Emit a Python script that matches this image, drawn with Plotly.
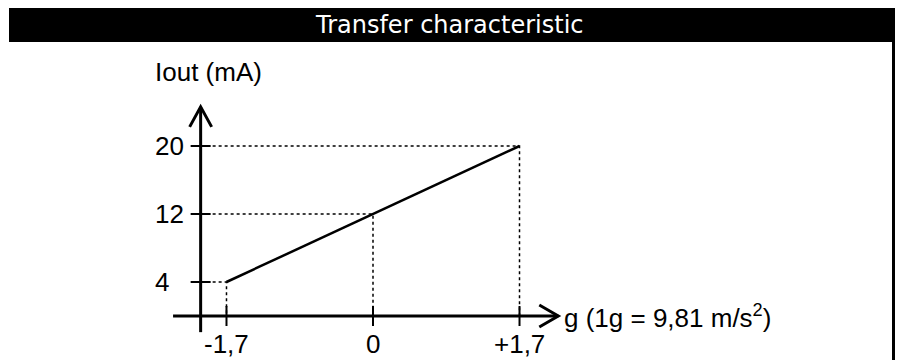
import plotly.graph_objects as go

# Transfer characteristic: acceleration (g) -> output current (mA)
g_values = [-1.7, 0, 1.7]
iout_values = [4, 12, 20]
g_labels = ["-1,7", "0", "+1,7"]
iout_labels = ["4", "12", "20"]

title = "Transfer characteristic"
y_title = "Iout (mA)"
x_title = "g (1g = 9,81 m/s<sup>2</sup>)"

# where the drawn axes sit / end (data units)
y_axis_at = -2.0
x_axis_min, x_axis_max = -2.32, 2.15
y_axis_min, y_axis_max = -1.9, 24.6

W, H = 898, 360
# pixel mapping: g=0 at px 373, 86.18 px per g ; 0 mA at px 316, 8.5 px per mA
x0_px, y0_px = 373, 316
x_range = [(0 - x0_px) / 86.18, (W - x0_px) / 86.18]
y_range = [(y0_px - H) / 8.5, y0_px / 8.5]

label_font = dict(family="Liberation Sans, Arial", size=26, color="black")

fig = go.Figure()

# dotted guide lines
for gx, iy in zip(g_values, iout_values):
    fig.add_trace(go.Scatter(x=[y_axis_at, gx, gx], y=[iy, iy, 0], mode="lines",
                             line=dict(color="black", width=1.5, dash="dot"),
                             hoverinfo="skip", showlegend=False))

# characteristic line
fig.add_trace(go.Scatter(x=[g_values[0], g_values[-1]], y=[iout_values[0], iout_values[-1]],
                         mode="lines", line=dict(color="black", width=2.5),
                         showlegend=False))

shapes = []
# axes
shapes.append(dict(type="line", xref="x", yref="y", x0=x_axis_min, x1=x_axis_max, y0=0, y1=0,
                   line=dict(color="black", width=3)))
shapes.append(dict(type="line", xref="x", yref="y", x0=y_axis_at, x1=y_axis_at, y0=y_axis_min, y1=y_axis_max,
                   line=dict(color="black", width=3)))
# arrow heads (pixel offsets from the tip)
shapes.append(dict(type="path", xref="x", yref="y", xsizemode="pixel", ysizemode="pixel",
                   xanchor=x_axis_max, yanchor=0, path="M -19 11 L 0 0 L -19 -11",
                   line=dict(color="black", width=3)))
shapes.append(dict(type="path", xref="x", yref="y", xsizemode="pixel", ysizemode="pixel",
                   xanchor=y_axis_at, yanchor=y_axis_max, path="M -11 -20 L 0 0 L 11 -20",
                   line=dict(color="black", width=3)))
# tick marks
for gx in g_values:
    shapes.append(dict(type="line", xref="x", yref="y", ysizemode="pixel", yanchor=0,
                       x0=gx, x1=gx, y0=-10, y1=10, line=dict(color="black", width=2)))
for iy in iout_values:
    shapes.append(dict(type="line", xref="x", yref="y", xsizemode="pixel", xanchor=y_axis_at,
                       x0=-10, x1=10, y0=iy, y1=iy, line=dict(color="black", width=2)))
# title bar and right border
shapes.append(dict(type="rect", xref="paper", yref="paper", x0=9 / W, x1=895 / W,
                   y0=1 - 42 / H, y1=1 - 8 / H, fillcolor="black", line=dict(width=0), layer="below"))
shapes.append(dict(type="line", xref="paper", yref="paper", x0=893.5 / W, x1=893.5 / W,
                   y0=0, y1=1 - 42 / H, line=dict(color="black", width=3)))

annotations = []
for gx, lab in zip(g_values, g_labels):
    annotations.append(dict(x=gx, y=-3.35, xref="x", yref="y", text=lab, showarrow=False,
                            xanchor="center", yanchor="middle", font=label_font))
for iy, lab in zip(iout_values, iout_labels):
    annotations.append(dict(x=(153 - 373) / 86.18, y=iy, xref="x", yref="y", text=lab, showarrow=False,
                            xanchor="left", yanchor="middle", font=label_font))
annotations.append(dict(x=(153 - 373) / 86.18, y=(316 - 72) / 8.5, xref="x", yref="y", text=y_title,
                        showarrow=False, xanchor="left", yanchor="middle", font=label_font))
annotations.append(dict(x=x_axis_max + 0.04, y=0, xref="x", yref="y", text=x_title,
                        showarrow=False, xanchor="left", yanchor="middle", font=label_font))
annotations.append(dict(x=449 / W, y=1 - 25 / H, xref="paper", yref="paper", text=title,
                        showarrow=False, xanchor="center", yanchor="middle",
                        font=dict(family="DejaVu Sans", size=24, color="white")))

fig.update_layout(
    width=W, height=H,
    margin=dict(l=0, r=0, t=0, b=0),
    paper_bgcolor="white", plot_bgcolor="white",
    xaxis=dict(range=x_range, visible=False, fixedrange=True),
    yaxis=dict(range=y_range, visible=False, fixedrange=True),
    shapes=shapes, annotations=annotations,
    showlegend=False,
)

# drop the default page margin so the figure fills the window exactly
fig.write_html("out.html", config={"displayModeBar": False},
               post_script="document.body.style.margin='0';document.body.style.overflow='hidden';")
